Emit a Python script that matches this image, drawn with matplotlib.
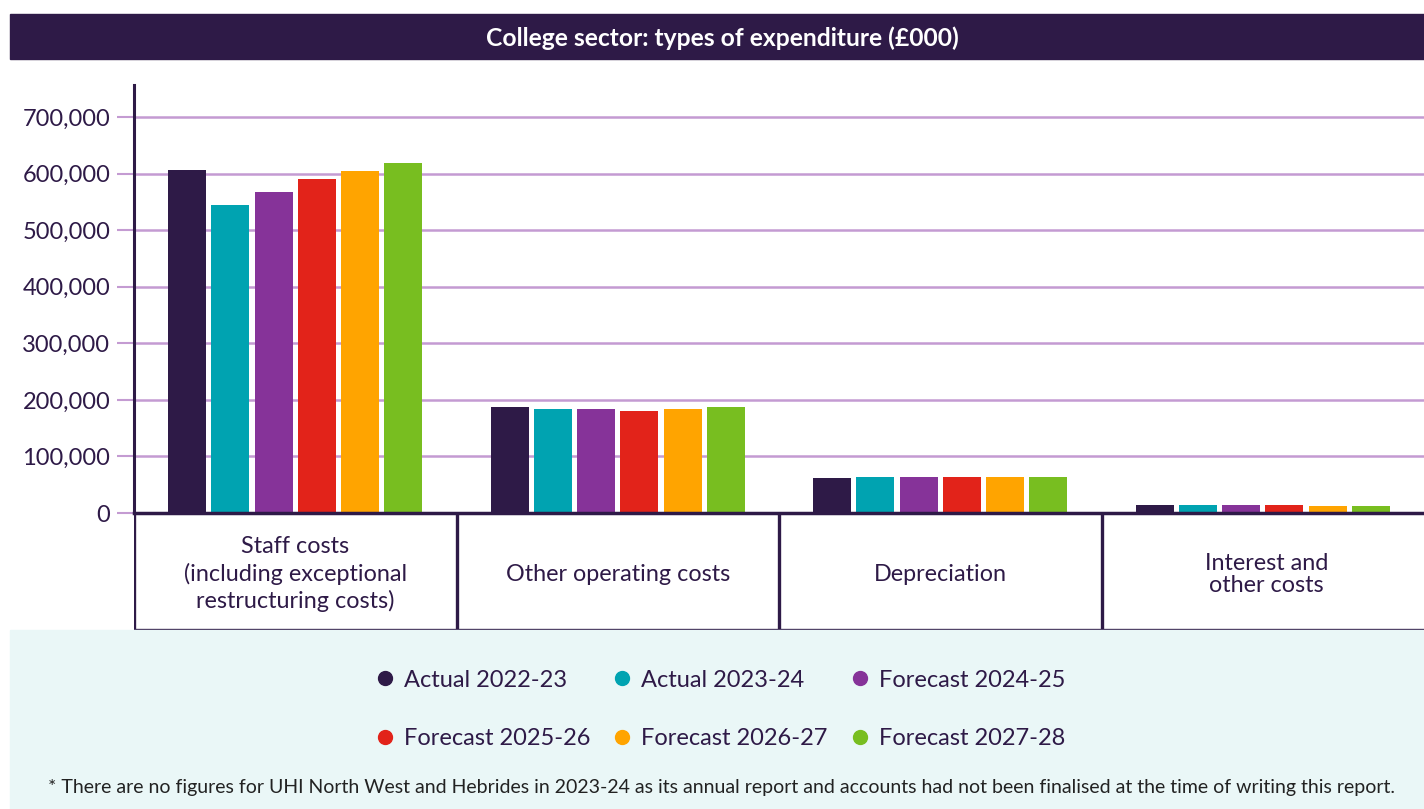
import matplotlib
matplotlib.use("Agg")
import matplotlib.pyplot as plt
from matplotlib.lines import Line2D
from matplotlib.patches import Rectangle
from matplotlib.ticker import FuncFormatter

plt.rcParams['font.family'] = ['Lato', 'DejaVu Sans']

# data (£000)
categories = ["Staff costs\n(including exceptional\nrestructuring costs)",
              "Other operating costs", "Depreciation", "Interest and\nother costs"]
series = ["Actual 2022-23", "Actual 2023-24", "Forecast 2024-25",
          "Forecast 2025-26", "Forecast 2026-27", "Forecast 2027-28"]
actual_2022_23 = [606000, 186500, 61000, 15000]
actual_2023_24 = [544000, 183000, 63000, 15000]
forecast_2024_25 = [568000, 183000, 63000, 13500]
forecast_2025_26 = [591000, 180000, 63000, 13500]
forecast_2026_27 = [604000, 183000, 64000, 12000]
forecast_2027_28 = [618000, 186500, 63000, 12000]
values = [actual_2022_23, actual_2023_24, forecast_2024_25,
          forecast_2025_26, forecast_2026_27, forecast_2027_28]
colors = ["#2e1a47", "#00a3b1", "#863399", "#e2231a", "#ffa400", "#78be20"]

dark = "#2e1a47"
grid_col = "#c49bd2"

W, H = 1424, 809
fig = plt.figure(figsize=(W / 100, H / 100), dpi=100)

# title bar
fig.patches.append(Rectangle((10 / W, 1 - 59 / H), 1 - 10 / W, 45 / H,
                             transform=fig.transFigure, color=dark, zorder=0))
fig.text(0.507, 1 - 38 / H, "College sector: types of expenditure (£000)",
         ha="center", va="center", color="white", fontsize=17.7, fontweight="bold")

# legend background
fig.patches.append(Rectangle((10 / W, 0), 1 - 10 / W, 1 - 630 / H,
                             transform=fig.transFigure, color="#eaf7f7", zorder=0))

# main axes
ax = fig.add_axes([134 / W, 1 - 513 / H, 1 - 134 / W, (513 - 85) / H])
step = 0.134
bw = 0.118
for k, (vals, c) in enumerate(zip(values, colors)):
    xs = [i + 0.5 + (k - 2.5) * step for i in range(len(categories))]
    ax.bar(xs, vals, width=bw, color=c, zorder=3)

ax.set_xlim(0, 4)
ax.set_ylim(0, 756600)
ax.set_yticks(range(0, 700001, 100000))
ax.yaxis.set_major_formatter(FuncFormatter(lambda v, p: f"{int(v):,}"))
ax.grid(axis="y", color=grid_col, linewidth=1.8, zorder=0)
ax.set_xticks([])
ax.tick_params(axis="y", length=12, width=1.5, color=grid_col,
               labelsize=17, labelcolor=dark, pad=5)
for s in ["top", "right"]:
    ax.spines[s].set_visible(False)
ax.spines["left"].set_color(dark)
ax.spines["left"].set_linewidth(2.2)
ax.spines["bottom"].set_color(dark)
ax.spines["bottom"].set_linewidth(2.5)
ax.spines["bottom"].set_zorder(5)

# category box
cax = fig.add_axes([134 / W, 1 - 630 / H, 1 - 134 / W, (630 - 513) / H])
cax.set_xlim(0, 4)
cax.set_ylim(0, 1)
cax.axis("off")
for i in range(4):
    cax.axvline(i, color=dark, linewidth=2.4)
cax.axhline(0, color=dark, linewidth=2.4)
spacings = [1.3, 1.0, 1.0, 1.05]
for i, lab in enumerate(categories):
    cax.text(i + 0.5 + (0.012 if i == 3 else 0), 0.475, lab, ha="center",
             va="center", fontsize=16.8, color=dark, linespacing=spacings[i])

# legend (filled row by row)
handles = [Line2D([], [], marker="o", linestyle="none", markersize=10,
                  markerfacecolor=c, markeredgecolor=c) for c in colors]
order = [0, 3, 1, 4, 2, 5]
leg = fig.legend([handles[i] for i in order], [series[i] for i in order],
                 loc="center", ncol=3,
                 bbox_to_anchor=(0.505, 1 - 709.5 / H), frameon=False,
                 fontsize=17, labelspacing=1.6, columnspacing=0.86,
                 handletextpad=0.3, handlelength=1.0, labelcolor=dark)

fig.text(0.507, 1 - 787 / H,
         "* There are no figures for UHI North West and Hebrides in 2023-24 as its annual report "
         "and accounts had not been finalised at the time of writing this report.",
         ha="center", va="center", fontsize=14, color="#222222")

fig.savefig("out.png", dpi=100)
